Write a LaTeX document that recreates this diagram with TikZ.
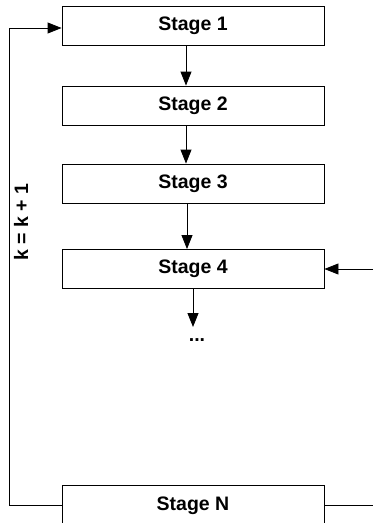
\documentclass[tikz,border=0pt]{standalone}
\usepackage{fontspec}
\setmainfont{Liberation Sans}
\usetikzlibrary{arrows.meta}
\begin{document}
\begin{tikzpicture}[x=1pt,y=-1pt,
  stagebox/.style={draw, line width=0.9pt, minimum width=262pt, minimum height=39pt, inner sep=0pt,
    font=\fontsize{19.5}{22}\selectfont\bfseries},
  conn/.style={line width=0.9pt},
  arr/.style={conn, -{Triangle[length=14pt,width=11pt]}},
  lbl/.style={font=\fontsize{19.5}{22}\selectfont\bfseries, inner sep=0pt}]
\clip (0,0) rectangle (373,523);
\fill[white] (0,0) rectangle (373,523);
\node[stagebox] (s1) at (193,25.5) {Stage 1};
\node[stagebox] (s2) at (193,105.5) {Stage 2};
\node[stagebox] (s3) at (193,183.5) {Stage 3};
\node[stagebox] (s4) at (193,269) {Stage 4};
\node[stagebox, minimum height=42pt] (sN) at (193,506) {Stage N};
\node[lbl, anchor=base] (dots) at (197,341) {...};
\coordinate (dtop) at (193,327);
\coordinate (rin) at (373,269);
\coordinate (rout) at (373,505);
\coordinate (lb) at (9,505);
\coordinate (lt) at (9,28);
\node[lbl, rotate=90] (k) at (21,222.5) {k = k + 1};
\draw[arr] ([xshift=-7pt]s1.south) -- ([xshift=-7pt]s2.north);
\draw[arr] ([xshift=-7pt]s2.south) -- ([xshift=-7pt]s3.north);
\draw[arr] ([xshift=-6pt]s3.south) -- ([xshift=-6pt]s4.north);
\draw[arr] (s4.south) -- (dtop);
\draw[arr] (rin) -- (s4.east);
\draw[conn] (sN.east |- rout) -- (rout);
\draw[arr] (sN.west |- lb) -- (lb) -- (lt) -- (s1.west |- lt);
\end{tikzpicture}
\end{document}
